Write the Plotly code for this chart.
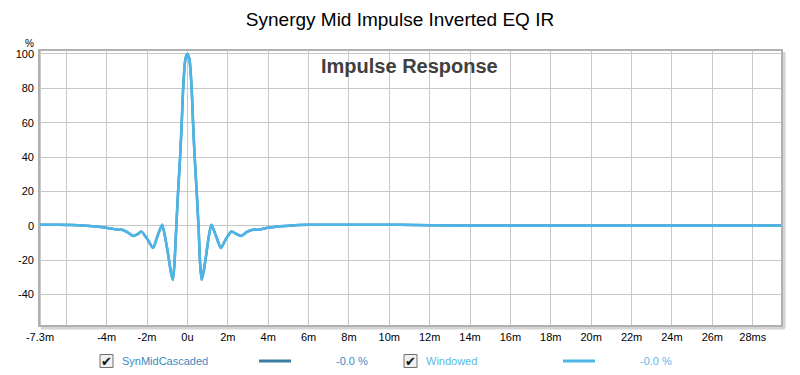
import plotly.graph_objects as go

# ---- data (time in ms, amplitude in %) ----
time_ms = [-7.35, -6.5, -5.7, -5.0, -4.5, -4.1, -3.7, -3.42, -3.27, -3.0, -2.68, -2.45, -2.28,
           -2.0, -1.7, -1.48, -1.25, -1.1, -0.95, -0.82, -0.72, -0.64, -0.56, -0.46, -0.36,
           -0.28, -0.21, -0.1, 0.0, 0.1, 0.21, 0.28, 0.36, 0.46, 0.56, 0.63, 0.70, 0.80,
           0.93, 1.05, 1.19, 1.42, 1.66, 1.92, 2.18, 2.42, 2.66, 2.95, 3.24, 3.57, 3.98,
           4.5, 5.0, 6.0, 7.5, 9.0, 10.5, 12.0, 14.0, 18.0, 22.0, 26.0, 29.45]
synmid_pct = [0.5, 0.5, 0.4, 0.0, -0.4, -1.0, -1.8, -2.4, -2.2, -3.6, -6.0, -4.8, -3.4,
              -7.5, -13.0, -6.0, 0.5, -7.0, -17.0, -27.0, -31.5, -22.0, -3.0, 20.0, 40.0,
              60.0, 80.0, 97.0, 100.0, 97.0, 80.0, 60.0, 40.0, 20.0, -3.0, -22.0, -31.5, -27.0,
              -17.0, -7.0, 0.5, -6.0, -13.0, -7.5, -3.4, -4.8, -6.0, -3.6, -2.3, -2.3, -1.2,
              -0.4, 0.0, 0.5, 0.6, 0.6, 0.5, 0.2, 0.1, 0.1, 0.1, 0.1, 0.1]
windowed_pct = list(synmid_pct)

x_tickvals = [-7.3, -6, -4, -2, 0, 2, 4, 6, 8, 10, 12, 14, 16, 18, 20, 22, 24, 26, 28]
x_ticktext = ["-7.3m", "", "-4m", "-2m", "0u", "2m", "4m", "6m", "8m", "10m", "12m", "14m",
              "16m", "18m", "20m", "22m", "24m", "26m", "28ms"]
y_tickvals = [100, 80, 60, 40, 20, 0, -20, -40]
y_ticktext = ["100", "80", "60", "40", "20", "0", "-20", "-40"]

series_names = ["SynMidCascaded", "Windowed"]
series_colors = ["#3a7fa2", "#4db6e8"]
label_colors = ["#3b8ac0", "#5cb9e6"]
readouts = ["-0.0 %", "-0.0 %"]

# ---- layout geometry ----
W, H = 800, 375
L, R, T, B = 39, 782, 50, 326
def px(x):
    return (x - L) / (R - L)
def py(y):
    return (B - y) / (B - T)

FONT = "Liberation Sans, Arial, sans-serif"

fig = go.Figure()
fig.add_trace(go.Scatter(x=time_ms, y=synmid_pct, mode="lines", name=series_names[0],
                         line=dict(color=series_colors[0], width=2.5, shape="spline", smoothing=0.6)))
fig.add_trace(go.Scatter(x=time_ms, y=windowed_pct, mode="lines", name=series_names[1],
                         line=dict(color=series_colors[1], width=2.5, shape="spline", smoothing=0.6)))

fig.update_layout(
    width=W, height=H,
    margin=dict(l=L, r=W - R, t=T, b=H - B),
    paper_bgcolor="white", plot_bgcolor="white",
    showlegend=False,
    font=dict(family=FONT, size=11, color="#000000"),
    title=dict(text="Synergy Mid Impulse Inverted EQ IR", x=0.5, xanchor="center",
               y=1 - 19 / H, yanchor="middle", yref="container",
               font=dict(family=FONT, size=19, color="#000000")),
    xaxis=dict(range=[-7.35, 29.45], tickvals=x_tickvals, ticktext=x_ticktext,
               showgrid=True, gridcolor="#c8c8c8", gridwidth=1, zeroline=False,
               showline=False, ticks="", ticklabelstandoff=3, tickfont=dict(size=11)),
    yaxis=dict(range=[-58.4, 102.3], tickvals=y_tickvals, ticktext=y_ticktext,
               showgrid=True, gridcolor="#c8c8c8", gridwidth=1, zeroline=False,
               showline=False, ticks="", ticklabelstandoff=4, tickfont=dict(size=11)),
)

shapes = []
# frame shadow (right & bottom)
shapes.append(dict(type="line", xref="paper", yref="paper", x0=px(R + 2), x1=px(R + 2),
                   y0=py(T + 2), y1=py(B + 2), line=dict(color="#d4d4d4", width=3)))
shapes.append(dict(type="line", xref="paper", yref="paper", x0=px(L + 2), x1=px(R + 3),
                   y0=py(B + 2), y1=py(B + 2), line=dict(color="#d4d4d4", width=3)))
# frame
shapes.append(dict(type="rect", xref="paper", yref="paper", x0=0, x1=1, y0=0, y1=1,
                   line=dict(color="#b0b0b0", width=2)))

annotations = []
annotations.append(dict(text="<b>Impulse Response</b>", xref="paper", yref="paper",
                        x=px(409), y=py(66), xanchor="center", yanchor="middle",
                        showarrow=False, font=dict(family=FONT, size=20, color="#404040")))
annotations.append(dict(text="%", xref="paper", yref="paper", x=px(29), y=py(43),
                        xanchor="center", yanchor="middle", showarrow=False,
                        font=dict(family=FONT, size=10, color="#000000")))

# legend row
row_y = 361
checkbox_x = [100, 404]
text_x = [120, 424]
line_x = [(259, 291), (563, 595)]
readout_x = [352, 656]
for i in range(2):
    cx = checkbox_x[i]
    shapes.append(dict(type="rect", xref="paper", yref="paper", x0=px(cx), x1=px(cx + 13),
                       y0=py(row_y + 6.5), y1=py(row_y - 6.5),
                       line=dict(color="#707070", width=1), fillcolor="#f0f0f0"))
    annotations.append(dict(text="✔", xref="paper", yref="paper", x=px(cx + 6.5), y=py(row_y),
                            xanchor="center", yanchor="middle", showarrow=False,
                            font=dict(family="DejaVu Sans", size=13, color="#111111")))
    annotations.append(dict(text=series_names[i], xref="paper", yref="paper", x=px(text_x[i]),
                            y=py(row_y), xanchor="left", yanchor="middle", showarrow=False,
                            font=dict(family=FONT, size=11, color=label_colors[i])))
    shapes.append(dict(type="line", xref="paper", yref="paper", x0=px(line_x[i][0]),
                       x1=px(line_x[i][1]), y0=py(row_y), y1=py(row_y),
                       line=dict(color=series_colors[i], width=3)))
    annotations.append(dict(text=readouts[i], xref="paper", yref="paper", x=px(readout_x[i]),
                            y=py(row_y), xanchor="center", yanchor="middle", showarrow=False,
                            font=dict(family=FONT, size=11, color=label_colors[i])))

fig.update_layout(shapes=shapes, annotations=annotations)
fig.write_html("out.html", config={"displayModeBar": False},
               post_script="document.body.style.margin='0';document.body.style.overflow='hidden';")
